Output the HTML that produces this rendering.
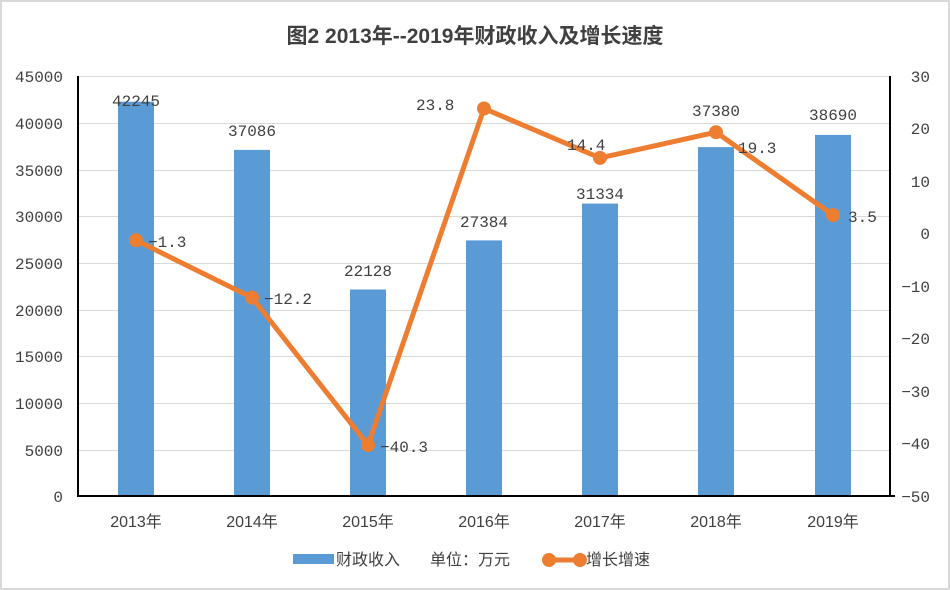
<!DOCTYPE html>
<html><head><meta charset="utf-8"><style>
body{margin:0;background:#fff;}
svg{display:block;}
text{font-family:"Liberation Mono","Noto Sans CJK SC",monospace;font-size:16px;fill:#404040;}
.cj{font-family:"Liberation Sans","Noto Sans CJK SC",sans-serif;}
</style></head><body>
<svg width="950" height="590" viewBox="0 0 950 590">
<rect x="1" y="1" width="948" height="588" fill="#fff" stroke="#d9d9d9" stroke-width="2"/>
<text x="475" y="43" text-anchor="middle" class="cj" style="font-size:21px;font-weight:bold;fill:#404040">图2  2013年--2019年财政收入及增长速度</text>
<g stroke="#d9d9d9" stroke-width="1">
<line x1="78" x2="890" y1="76.5" y2="76.5"/><line x1="78" x2="890" y1="123.5" y2="123.5"/>
<line x1="78" x2="890" y1="170.5" y2="170.5"/><line x1="78" x2="890" y1="216.5" y2="216.5"/>
<line x1="78" x2="890" y1="263.5" y2="263.5"/><line x1="78" x2="890" y1="310.5" y2="310.5"/>
<line x1="78" x2="890" y1="356.5" y2="356.5"/><line x1="78" x2="890" y1="403.5" y2="403.5"/>
<line x1="78" x2="890" y1="450.5" y2="450.5"/>
</g>
<g fill="#5b9bd5">
<rect x="118" y="101.7" width="36" height="394.3"/>
<rect x="234" y="149.9" width="36" height="346.1"/>
<rect x="350" y="289.5" width="36" height="206.5"/>
<rect x="466" y="240.4" width="36" height="255.6"/>
<rect x="582" y="203.6" width="36" height="292.4"/>
<rect x="698" y="147.1" width="36" height="348.9"/>
<rect x="815" y="134.9" width="36" height="361.1"/>
</g>
<line x1="78" y1="76" x2="78" y2="497" stroke="#000" stroke-width="2"/>
<line x1="890" y1="76" x2="890" y2="497" stroke="#000" stroke-width="2"/>
<line x1="78" y1="496" x2="895" y2="496" stroke="#000" stroke-width="2"/>
<g text-anchor="end">
<text x="63" y="82">45000</text><text x="63" y="129">40000</text><text x="63" y="176">35000</text>
<text x="63" y="222">30000</text><text x="63" y="269">25000</text><text x="63" y="316">20000</text>
<text x="63" y="362">15000</text><text x="63" y="409">10000</text><text x="63" y="456">5000</text>
<text x="63" y="502">0</text>
</g>
<g text-anchor="end">
<text x="930" y="82">30</text><text x="930" y="134">20</text><text x="930" y="187">10</text>
<text x="930" y="239">0</text><text x="930" y="292">−10</text><text x="930" y="344">−20</text>
<text x="930" y="397">−30</text><text x="930" y="449">−40</text><text x="930" y="502">−50</text>
</g>
<g text-anchor="middle">
<text x="136" y="106">42245</text><text x="252" y="136">37086</text><text x="368" y="276">22128</text>
<text x="484" y="227">27384</text><text x="600" y="199">31334</text><text x="716" y="116">37380</text>
<text x="833" y="120">38690</text>
</g>
<g text-anchor="middle" style="font-size:16px">
<text x="136" y="527" class="cj">2013年</text><text x="252" y="527" class="cj">2014年</text>
<text x="368" y="527" class="cj">2015年</text><text x="484" y="527" class="cj">2016年</text>
<text x="600" y="527" class="cj">2017年</text><text x="716" y="527" class="cj">2018年</text>
<text x="833" y="527" class="cj">2019年</text>
</g>
<polyline points="136,240.3 252,297.6 368,445.1 484,108.5 600,157.9 716,132.2 833,215.1" fill="none" stroke="#ed7d31" stroke-width="5" stroke-linejoin="round"/>
<g fill="#ed7d31">
<circle cx="136" cy="240.3" r="7"/><circle cx="252" cy="297.6" r="7"/><circle cx="368" cy="445.1" r="7"/>
<circle cx="484" cy="108.5" r="7"/><circle cx="600" cy="157.9" r="7"/><circle cx="716" cy="132.2" r="7"/>
<circle cx="833" cy="215.1" r="7"/>
</g>
<text x="148" y="247">−1.3</text><text x="264" y="304">−12.2</text><text x="380" y="452">−40.3</text>
<text x="416" y="110">23.8</text><text x="567" y="150">14.4</text><text x="738" y="153">19.3</text>
<text x="848" y="222">3.5</text>
<rect x="293" y="554" width="41" height="10" fill="#5b9bd5"/>
<text x="336" y="565" class="cj">财政收入</text>
<text x="430" y="565" class="cj">单位：万元</text>
<line x1="549" y1="560" x2="580" y2="560" stroke="#ed7d31" stroke-width="5"/>
<circle cx="549" cy="560" r="7" fill="#ed7d31"/><circle cx="580" cy="560" r="7" fill="#ed7d31"/>
<text x="586" y="565" class="cj">增长增速</text>
</svg>
</body></html>
